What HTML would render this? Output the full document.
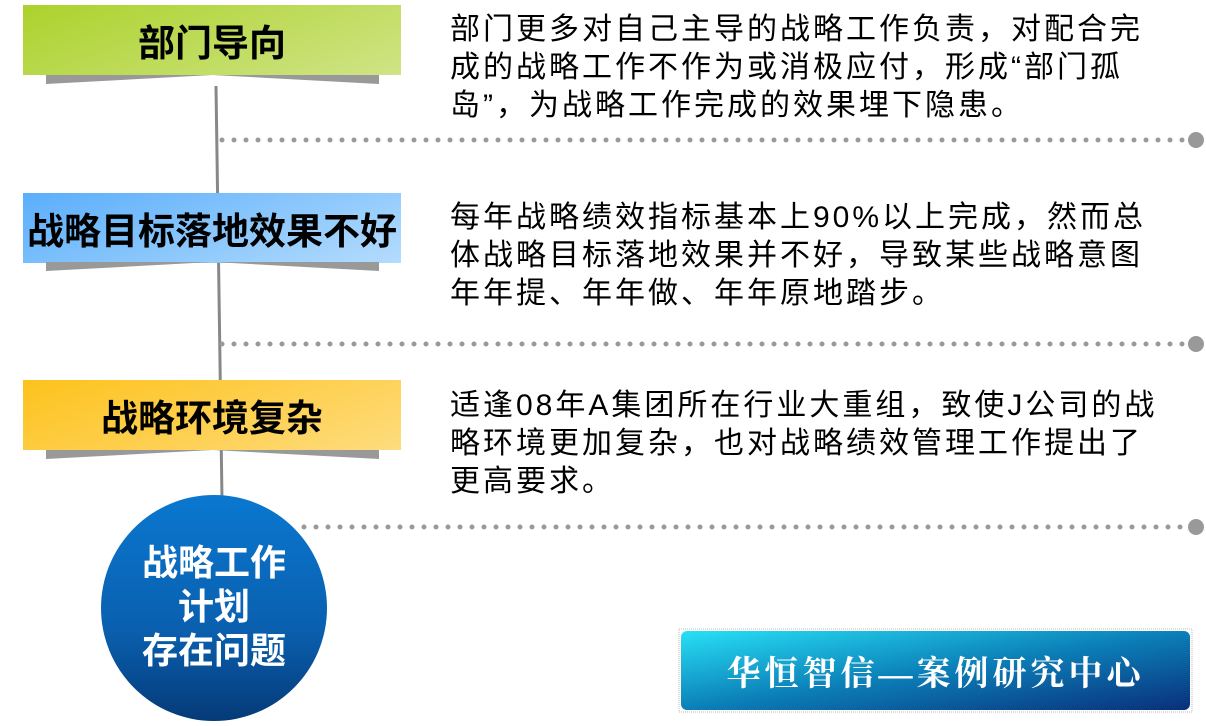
<!DOCTYPE html>
<html><head><meta charset="utf-8"><style>
body{margin:0;width:1206px;height:726px;background:#fff;position:relative;overflow:hidden;font-family:"Liberation Sans","Noto Sans CJK SC",sans-serif}
.box{position:absolute;left:23px;width:378px;height:70px;display:flex;align-items:center;justify-content:center;font-weight:bold;font-size:37px;color:#000;white-space:nowrap}
.sh{position:absolute;left:46px;width:333px;height:9px;background:#999;clip-path:polygon(0 0,50% 0,100% 0,100% 100%,50% 0,0 100%)}
.t{position:absolute;left:450px;font-size:30px;letter-spacing:3px;line-height:38px;color:#000;white-space:nowrap}
</style></head><body>
<svg width="1206" height="726" style="position:absolute;left:0;top:0">
<line x1="216" y1="86" x2="222" y2="500" stroke="#888" stroke-width="3"/>
<g fill="#999">
<line x1="222" y1="140" x2="1186" y2="140" stroke="#999" stroke-width="5" stroke-dasharray="0 12" stroke-linecap="round"/>
<circle cx="1196" cy="140" r="8"/>
<line x1="222" y1="344" x2="1186" y2="344" stroke="#999" stroke-width="5" stroke-dasharray="0 12" stroke-linecap="round"/>
<circle cx="1196" cy="344" r="8"/>
<line x1="304" y1="527" x2="1186" y2="527" stroke="#999" stroke-width="5" stroke-dasharray="0 12" stroke-linecap="round"/>
<circle cx="1196" cy="527" r="8"/>
</g>
<defs><linearGradient id="cg" x1="0" y1="0" x2="0" y2="1"><stop offset="0" stop-color="#0a78d0"/><stop offset="0.6" stop-color="#0a5fae"/><stop offset="1" stop-color="#053a78"/></linearGradient>
<linearGradient id="bg" x1="0" y1="0" x2="1" y2="1"><stop offset="0" stop-color="#28e0f5"/><stop offset="0.5" stop-color="#0b7fb8"/><stop offset="1" stop-color="#0a2f7a"/></linearGradient></defs>
<circle cx="214" cy="608" r="113" fill="url(#cg)"/>
<rect x="679" y="629" width="513" height="83" fill="none" stroke="#bbb" stroke-dasharray="1 1"/>
<rect x="681" y="631" width="509" height="79" rx="6" fill="url(#bg)"/>
</svg>
<div class="box" style="top:5px;background:linear-gradient(160deg,#acd22c,#cfe486)">部门导向</div>
<div class="sh" style="top:75px"></div>
<div class="box" style="top:193px;background:linear-gradient(160deg,#5aaefc,#b4dcfd)">战略目标落地效果不好</div>
<div class="sh" style="top:262px"></div>
<div class="box" style="top:380px;background:linear-gradient(160deg,#fdc21c,#fedc7e)">战略环境复杂</div>
<div class="sh" style="top:450px"></div>
<div class="t" style="top:11px">部门更多对自己主导的战略工作负责，对配合完<br>成的战略工作不作为或消极应付，形成“部门孤<br>岛”，为战略工作完成的效果埋下隐患。</div>
<div class="t" style="top:199px">每年战略绩效指标基本上90%以上完成，然而总<br>体战略目标落地效果并不好，导致某些战略意图<br>年年提、年年做、年年原地踏步。</div>
<div class="t" style="top:387px">适逢08年A集团所在行业大重组，致使J公司的战<br>略环境更加复杂，也对战略绩效管理工作提出了<br>更高要求。</div>
<div style="position:absolute;left:101px;top:541px;width:226px;text-align:center;color:#fff;font-weight:bold;font-size:36px;line-height:44px">战略工作<br>计划<br>存在问题</div>
<div style="position:absolute;left:681px;top:631px;width:509px;height:79px;display:flex;align-items:center;justify-content:center;color:#fff;font-family:'Liberation Serif','Noto Serif CJK SC',serif;font-weight:bold;font-size:34px;letter-spacing:4px">华恒智信—案例研究中心</div>
</body></html>
